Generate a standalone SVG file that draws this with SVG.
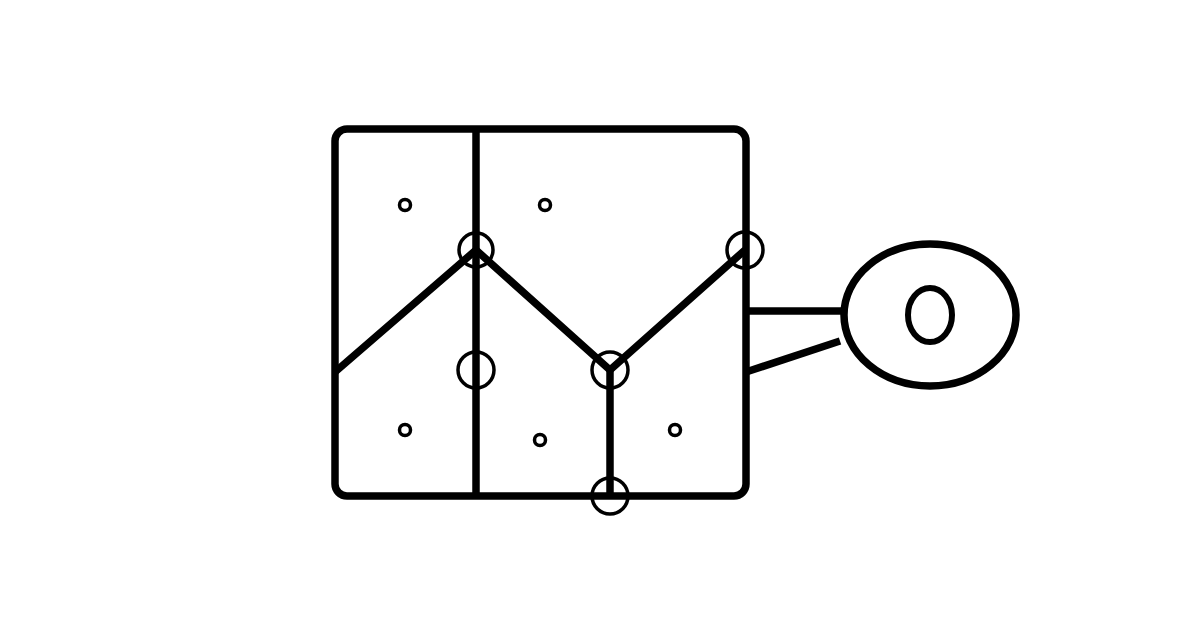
<svg xmlns="http://www.w3.org/2000/svg" width="1200" height="630" viewBox="0 0 1200 630">
<style>
.thick{fill:none;stroke:#000;stroke-width:7.5;}
.ring{fill:none;stroke:#000;stroke-width:3.5;}
.dot{fill:none;stroke:#000;stroke-width:3.5;}
</style>
<rect width="1200" height="630" fill="#fff"/>
<g id="frame">
<rect class="thick" x="335" y="129" width="411" height="367" rx="12" ry="12"/>
</g>
<g id="connectors">
<line class="thick" x1="476" y1="129" x2="476" y2="496"/>
<line class="thick" x1="610" y1="370" x2="610" y2="496"/>
<polyline class="thick" points="335,372 476,250 610,370 745,250" stroke-linejoin="miter"/>
<line class="thick" x1="746" y1="311" x2="844" y2="311"/>
<line class="thick" x1="746" y1="372" x2="840" y2="341"/>
</g>
<g id="joints">
<circle class="ring" cx="476" cy="250" r="17"/>
<circle class="ring" cx="745" cy="250" r="18"/>
<circle class="ring" cx="476" cy="370" r="18"/>
<circle class="ring" cx="610" cy="370" r="18"/>
<circle class="ring" cx="610" cy="496" r="18"/>
</g>
<g id="dots">
<circle class="dot" cx="405" cy="205" r="5.5"/>
<circle class="dot" cx="545" cy="205" r="5.5"/>
<circle class="dot" cx="405" cy="430" r="5.5"/>
<circle class="dot" cx="540" cy="440" r="5.5"/>
<circle class="dot" cx="675" cy="430" r="5.5"/>
</g>
<g id="eye">
<ellipse class="thick" cx="930" cy="315" rx="86" ry="71"/>
<ellipse class="thick" cx="930" cy="315" rx="22" ry="27" style="stroke-width:6"/>
</g>
</svg>
